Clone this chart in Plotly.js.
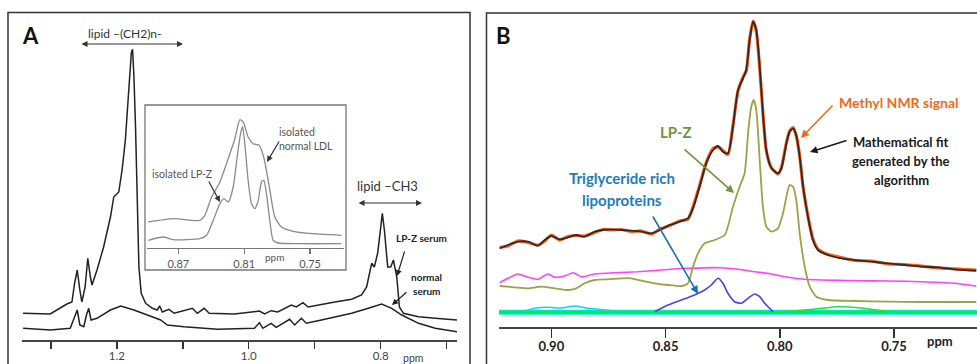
<!DOCTYPE html>
<html><head><meta charset="utf-8">
<script src="https://cdn.plot.ly/plotly-3.0.1.min.js"></script>
<style>html,body{margin:0;padding:0;background:#fff}#c{width:977px;height:364px}</style>
</head><body><div id="c"></div>
<script>
// ---------- Panel A: serum spectra ----------
const aPpmTop = [1.342,1.301,1.2756,1.268,1.264,1.260,1.256,1.253,1.248,1.244,1.240,1.2376,1.230,1.220,1.2096,1.2046,1.197,1.192,1.187,1.182,1.178,1.1761,1.174,1.1716,1.169,1.1665,1.163,1.1563,1.146,1.1386,1.135,1.131,1.121,1.113,1.0853,1.078,1.0675,1.06,1.0218,0.9838,0.976,0.966,0.956,0.9355,0.928,0.9178,0.910,0.887,0.8695,0.844,0.829,0.8213,0.8137,0.8096,0.8046,0.801,0.7975,0.7944,0.7893,0.7848,0.7807,0.7756,0.7716,0.7655,0.7426,0.7173,0.6843];
const aTop = [26.7,26,36,38,56.7,70,50,38,53,81.7,63,55,70,93,123,143,148,170,200,247,287,290.7,263,213,140,73,46.7,36.7,31.7,30,34,28,30.7,26.7,31.7,26.7,31.7,26.7,26,29,26,29.3,28,35,33,37.3,33,36,38,40.7,45,53,76.7,73,86.7,106.7,126.7,110,73,73,80,63,33,26.7,23.3,21.7,20];
const aPpmBot = [1.342,1.301,1.2706,1.264,1.26,1.256,1.25,1.246,1.2426,1.239,1.23,1.2096,1.194,1.174,1.154,1.1335,1.1234,1.098,1.0472,0.9914,0.9838,0.9787,0.966,0.9584,0.938,0.9305,0.9203,0.9127,0.8898,0.8695,0.844,0.8188,0.7985,0.7833,0.768,0.7426,0.7173,0.6843];
const aBot = [11.7,10,11.7,23.3,30,15,13.3,25,31.7,20,21.7,30,34,30,25,20,15,13.3,10.7,11.7,17.3,11.7,16.7,12.7,20.7,15,21.7,16.7,20,23.3,26.7,31.7,36,31.7,25,16.7,11.7,8.3];
const aTickVals = [1.3,1.2,1.1,1.0,0.9,0.8,0.7];
const aTickText = ['','1.2','','1.0','','0.8',''];

// ---------- Panel A inset: isolated lipoproteins ----------
const insetPpmLDL = [0.8973,0.8745,0.8503,0.8458,0.8397,0.8321,0.823,0.8185,0.8139,0.8109,0.8064,0.8018,0.7964,0.7927,0.7897,0.7861,0.7821,0.7761,0.7655,0.7473,0.7215];
const insetLDL = [26,29.3,27.7,32.7,51,66,94.3,109.3,128.3,126,111,104.3,102.7,92.7,77.7,54.3,31,21,16.7,14.3,12.7];
const insetPpmLPZ = [0.8973,0.8836,0.8745,0.8503,0.8442,0.8382,0.8321,0.8285,0.8245,0.82,0.8164,0.8133,0.8115,0.8094,0.8064,0.8033,0.8003,0.7973,0.7942,0.7921,0.7897,0.7867,0.7836,0.7791,0.7594,0.7215];
const insetLPZ = [7.7,11,8.3,9.3,12.7,27.7,44.3,49.3,46,61,91,114.3,121.7,104.3,67.7,44.3,39.3,47.3,66,67.7,54.3,27.7,7.7,5,4.3,4.3];
const insetTickVals = [0.87,0.81,0.75];
const insetTickText = ['0.87','0.81','0.75'];

// ---------- Panel B: methyl signal deconvolution ----------
const bPpmFit = [0.9226,0.919,0.9146,0.9102,0.9058,0.9029,0.90,0.8964,0.8927,0.8891,0.8854,0.881,0.8774,0.8737,0.8694,0.865,0.8606,0.8562,0.8526,0.8482,0.8438,0.8402,0.838,0.8351,0.8322,0.8292,0.827,0.8249,0.8227,0.8205,0.8183,0.8161,0.8147,0.8132,0.8117,0.8103,0.8088,0.8074,0.8059,0.8037,0.8008,0.7993,0.7971,0.7957,0.7942,0.7928,0.7913,0.7898,0.7877,0.7855,0.7833,0.7789,0.7731,0.7672,0.7599,0.7526,0.7453,0.738,0.7308,0.7235,0.714];
const bFit = [78.7,82,85.3,85.3,81.3,87,91,87.7,89.7,92,90.3,95.3,97,97.7,97,96.3,95.3,93.7,97,102,105.3,108.7,118.7,140.3,163.7,177,181,175.3,173.7,200.3,237,248.7,257,287,305.3,297,260.3,213.7,177,158.7,153.7,158.7,183.7,195.3,198.7,192,170.3,140.3,110.3,87,77,72,68.7,67,65.3,63.7,62,60.3,59.7,57.7,56.3];
const bMethyl = [79.5,81,86,84.5,82,86,92,87,90.5,91.5,91,94.5,97.5,97,97.5,95.5,96,93,97.5,101.5,106,108,120,141.5,164.5,178.5,180,176.5,172.5,201.5,236,250,256,288,306,296,259,214.5,176,159.5,153,159.5,184.5,196,199.5,191,171,139.5,111,88,78,72.5,69.5,66.5,66,63,62.5,60.8,59.2,58.2,56.8];
const bPpmLPZ = [0.9226,0.916,0.9102,0.9044,0.8985,0.8927,0.8891,0.8854,0.881,0.8752,0.8694,0.865,0.8606,0.8548,0.8489,0.8431,0.8402,0.838,0.8358,0.8329,0.8285,0.8241,0.8205,0.8176,0.8154,0.8139,0.8125,0.8114,0.8103,0.8088,0.8074,0.8059,0.8037,0.8008,0.7986,0.7971,0.7957,0.7942,0.7928,0.7913,0.7891,0.7869,0.784,0.7789,0.7672,0.7526,0.738,0.714];
const bLPZ = [41,39.7,38.7,40.3,38.7,37,38.7,43.7,47,47.7,48.7,48.7,46.3,43.7,42,41,43.7,60.3,73.7,83.7,87,92,120.3,140.3,153.7,193.7,220.3,227,217,167,120.3,100.3,95.3,98.7,113.7,130.3,142,140.3,127,93.7,60.3,40.3,30.3,27,26,25.3,25,25];
const bPpmMag = [0.9226,0.919,0.9146,0.9102,0.9058,0.9015,0.8985,0.8942,0.8905,0.8869,0.881,0.8723,0.8621,0.8475,0.8402,0.8256,0.8183,0.811,0.8037,0.7964,0.7891,0.7818,0.7672,0.7526,0.738,0.7235,0.714];
const bMag = [44.3,48.7,53,49.7,47.7,53,49.7,51,54.3,50.3,53,54.3,55.3,57.7,58.7,59.3,57.7,55.3,53,49.7,47.7,47,46.3,46,45.3,43.7,41];
const bPpmTRL = [0.8548,0.8489,0.8431,0.8373,0.8329,0.83,0.827,0.8249,0.8227,0.8198,0.8168,0.8139,0.811,0.8088,0.8066,0.803];
const bTRL = [15.3,22,27,32,37,42,48.7,43.7,33.7,25.3,23.7,28.7,33,30.3,23.7,15.3];
const bPpmCyan = [0.9226,0.9117,0.9073,0.9015,0.8956,0.8898,0.884,0.8766,0.8694];
const bCyan = [15.3,16.3,18.7,19.7,19,21,18.7,17,15.3];
const bPpmGreen = [0.7993,0.7891,0.7818,0.7745,0.7643,0.7526];
const bGreen = [14.7,17,18.7,20.3,19,15.3];
const bPpmBase = [0.9229,0.7137];
const bBase = [14.7,14.7];
const bTickVals = [0.90,0.85,0.80,0.75];
const bTickText = ['0.90','0.85','0.80','0.75'];

// ---------- helpers (pixel -> paper) ----------
const W = 977, H = 364;
const px = x => x / W;
const py = y => 1 - y / H;
const FONT = 'Lato, "Open Sans", sans-serif';

function txt(x, y, text, size, color, weight, anchor) {
  return {xref:'paper', yref:'paper', x:px(x), y:py(y), text:text, showarrow:false,
    xanchor: anchor || 'center', yanchor:'middle',
    font:{family:FONT, size:size, color:color, weight: weight || 'normal'}};
}
function arrow(tx, ty, hx, hy, color, width, dbl) {
  return {xref:'paper', yref:'paper', x:px(hx), y:py(hy), ax:tx-hx, ay:ty-hy,
    axref:'pixel', ayref:'pixel', text:'', showarrow:true, arrowhead:2, arrowsize:1,
    arrowwidth:width, arrowcolor:color, arrowside: dbl ? 'end+start' : 'end', standoff:0, startstandoff:0};
}

const traces = [
  {x:aPpmBot, y:aBot, xaxis:'x', yaxis:'y', mode:'lines', line:{color:'#222', width:1.5}},
  {x:aPpmTop, y:aTop, xaxis:'x', yaxis:'y', mode:'lines', line:{color:'#222', width:1.5}},
  {x:insetPpmLDL, y:insetLDL, xaxis:'x2', yaxis:'y2', mode:'lines', line:{color:'#8a8a8a', width:1.3, shape:'spline', smoothing:0.6}},
  {x:insetPpmLPZ, y:insetLPZ, xaxis:'x2', yaxis:'y2', mode:'lines', line:{color:'#8a8a8a', width:1.3, shape:'spline', smoothing:0.6}},
  {x:bPpmBase, y:bBase, xaxis:'x3', yaxis:'y3', mode:'lines', line:{color:'#00e0ff', width:5}},
  {x:bPpmCyan, y:bCyan, xaxis:'x3', yaxis:'y3', mode:'lines', line:{color:'#00d8ff', width:1.5, shape:'spline', smoothing:0.6}},
  {x:bPpmBase, y:bBase, xaxis:'x3', yaxis:'y3', mode:'lines', line:{color:'#00f040', width:3}},
  {x:bPpmGreen, y:bGreen, xaxis:'x3', yaxis:'y3', mode:'lines', line:{color:'#20e040', width:1.5, shape:'spline', smoothing:0.6}},
  {x:bPpmTRL, y:bTRL, xaxis:'x3', yaxis:'y3', mode:'lines', line:{color:'#4545e8', width:1.6, shape:'spline', smoothing:0.6}},
  {x:bPpmMag, y:bMag, xaxis:'x3', yaxis:'y3', mode:'lines', line:{color:'#ff40ff', width:1.6, shape:'spline', smoothing:0.6}},
  {x:bPpmLPZ, y:bLPZ, xaxis:'x3', yaxis:'y3', mode:'lines', line:{color:'#a0a048', width:1.8, shape:'spline', smoothing:0.6}},
  {x:bPpmFit, y:bMethyl, xaxis:'x3', yaxis:'y3', mode:'lines', line:{color:'#ff5a1a', width:3.2, shape:'spline', smoothing:0.6}},
  {x:bPpmFit, y:bFit, xaxis:'x3', yaxis:'y3', mode:'lines', line:{color:'#2a2a2a', width:1.8, shape:'spline', smoothing:0.6}}
];

const layout = {
  width:W, height:H, margin:{l:0, r:0, t:0, b:0}, showlegend:false,
  paper_bgcolor:'#fff', plot_bgcolor:'rgba(0,0,0,0)',
  xaxis:{domain:[px(22), px(457)], range:[1.3437, 0.6843], showgrid:false, zeroline:false,
    showline:true, linecolor:'#444', linewidth:1.5, ticks:'outside', ticklen:7, tickwidth:1.5, tickcolor:'#333',
    tickmode:'array', tickvals:aTickVals, ticktext:aTickText, ticklabelstandoff:-2,
    tickfont:{family:FONT, size:11.5, color:'#444'}, anchor:'y', fixedrange:true},
  yaxis:{domain:[py(340), py(30)], range:[0, 310], visible:false, fixedrange:true, anchor:'x'},
  xaxis2:{domain:[px(147), px(344)], range:[0.8985, 0.7191], showgrid:false, zeroline:false,
    showline:true, linecolor:'#777', linewidth:1.3, ticks:'outside', ticklen:5, tickwidth:1.3, tickcolor:'#777',
    tickmode:'array', tickvals:insetTickVals, ticktext:insetTickText,
    tickfont:{family:FONT, size:11, color:'#555'}, anchor:'y2', fixedrange:true},
  yaxis2:{domain:[py(248), py(110)], range:[0, 138], visible:false, fixedrange:true, anchor:'x2'},
  xaxis3:{domain:[px(499), 1], range:[0.9229, 0.7137], showgrid:false, zeroline:false,
    showline:true, linecolor:'#444', linewidth:2, ticks:'outside', ticklen:9, tickwidth:1.5, tickcolor:'#333',
    tickmode:'array', tickvals:bTickVals, ticktext:bTickText, ticklabelstandoff:-3,
    tickfont:{family:FONT, size:13, color:'#222', weight:'bold'}, anchor:'y3', fixedrange:true},
  yaxis3:{domain:[py(327), py(15)], range:[0, 312], visible:false, fixedrange:true, anchor:'x3'},
  shapes:[
    {type:'rect', xref:'paper', yref:'paper', x0:px(8), x1:px(470), y0:-0.05, y1:py(12.5), line:{color:'#333', width:1.5}, layer:'below'},
    {type:'rect', xref:'paper', yref:'paper', x0:px(486.5), x1:1.02, y0:-0.05, y1:py(13), line:{color:'#333', width:1.5}, layer:'below'},
    {type:'rect', xref:'paper', yref:'paper', x0:px(145), x1:px(346), y0:py(270), y1:py(105), line:{color:'#777', width:1.3}, fillcolor:'#fff', layer:'below'}
  ],
  annotations:[
    txt(30, 35, 'A', 22, '#111', 'bold'),
    txt(125, 33, 'lipid –(CH2)n-', 12, '#333'),
    arrow(80, 44, 183, 44, '#333', 1.2, true),
    txt(387, 186, 'lipid –CH3', 13, '#333'),
    arrow(357, 203, 422, 203, '#333', 1.2, true),
    txt(421, 238, 'LP-Z serum', 10, '#222', 'bold'),
    arrow(405, 250, 397, 276, '#222', 1.2),
    txt(426, 277, 'normal', 10, '#222', 'bold'),
    txt(426, 291, 'serum', 10, '#222', 'bold'),
    arrow(408, 291, 392, 305, '#222', 1.2),
    txt(182, 174, 'isolated LP-Z', 10.5, '#555'),
    arrow(208, 180, 220, 202, '#333', 1.2),
    txt(277, 132, 'isolated', 10.5, '#555', 'normal', 'left'),
    txt(277, 146, 'normal LDL', 10.5, '#555', 'normal', 'left'),
    arrow(280, 140, 267, 162, '#333', 1.2),
    txt(274, 257, 'ppm', 10, '#555'),
    txt(413, 358, 'ppm', 10.5, '#444'),
    txt(503, 35, 'B', 22, '#111', 'bold'),
    txt(899, 102, 'Methyl NMR signal', 14, '#f06a1e', 'bold'),
    arrow(834, 104, 801, 138, '#f06a1e', 1.6),
    txt(901, 142, 'Mathematical fit', 13, '#1a1a1a', 'bold'),
    txt(901, 161, 'generated by the', 13, '#1a1a1a', 'bold'),
    txt(901, 180, 'algorithm', 13, '#1a1a1a', 'bold'),
    arrow(848, 140, 810, 152, '#1a1a1a', 1.5),
    txt(676, 132, 'LP-Z', 15, '#6f963a', 'bold'),
    arrow(683, 148, 734, 193, '#6f963a', 1.6),
    txt(622, 178, 'Triglyceride rich', 15, '#1d7cc0', 'bold'),
    txt(622, 200, 'lipoproteins', 15, '#1d7cc0', 'bold'),
    arrow(652, 215, 698, 294, '#1a70b5', 1.6),
    txt(940, 341, 'ppm', 13, '#222', 'bold')
  ]
};

Plotly.newPlot('c', traces, layout, {displayModeBar:false, staticPlot:true});
</script>
</body></html>
